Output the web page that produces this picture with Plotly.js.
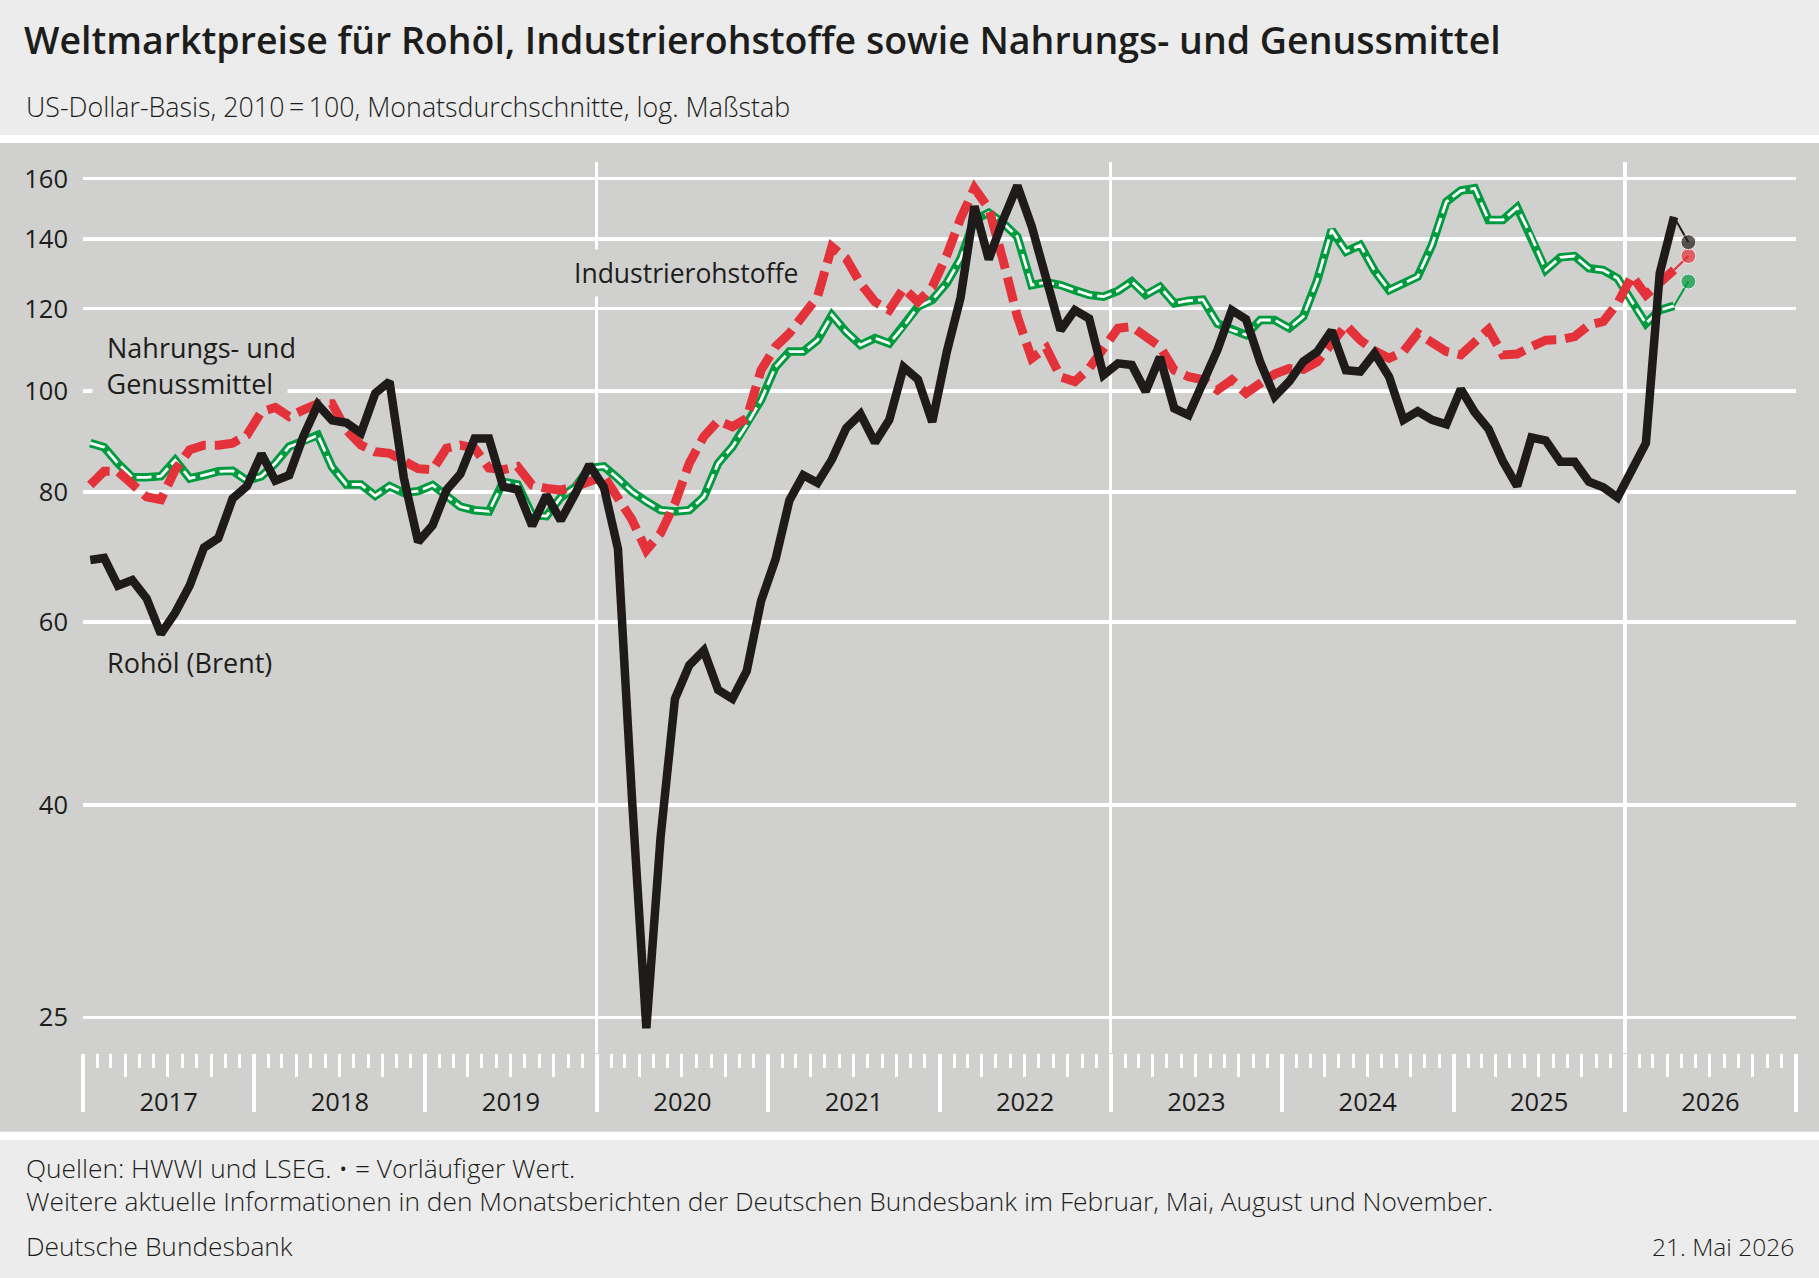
<!DOCTYPE html>
<html>
<head>
<meta charset="utf-8">
<script src="https://cdn.plot.ly/plotly-3.0.1.min.js"></script>
<style>
html,body{margin:0;padding:0;background:#ececec;}
#chart{width:1819px;height:1278px;}
</style>
</head>
<body>
<div id="chart"></div>
<script>
// ---------------- data (monthly averages, 2010 = 100) ----------------
const startYear = 2017;               // first month: January 2017
const yTickVals = [25, 40, 60, 80, 100, 120, 140, 160];
const yTickText = ['25', '40', '60', '80', '100', '120', '140', '160'];
const gridYears = ['2020-01-01', '2023-01-01', '2026-01-01'];

// Rohöl (Brent)
const brent = [
  68.8, 69.1, 65.0, 65.8, 63.2, 58.4, 61.2, 65.0, 70.7, 72.2, 78.8, 81.0,
  87.0, 82.0, 83.0, 90.5, 97.0, 93.7, 93.2, 91.1, 99.5, 102.1, 82.5, 71.6,
  74.3, 80.3, 83.2, 90.0, 90.0, 80.9, 80.4, 74.2, 79.4, 75.1, 79.6, 84.9,
  80.8, 70.5, 40.5, 24.4, 37.3, 50.6, 54.5, 56.3, 51.6, 50.6, 53.8, 62.8,
  68.9, 78.5, 83.0, 81.6, 85.9, 92.1, 95.0, 89.2, 93.8, 105.4, 102.6, 93.4,
  109.0, 123.0, 150.5, 133.8, 146.0, 157.5, 144.0, 128.0, 114.4, 119.6, 117.4, 103.6,
  106.3, 105.9, 99.9, 107.8, 96.2, 94.8, 102.0, 109.5, 119.6, 117.2, 106.5, 98.8,
  102.1, 106.7, 109.1, 114.3, 104.7, 104.4, 108.7, 103.2, 93.8, 95.6, 93.8, 92.9,
  100.4, 95.4, 91.9, 85.6, 81.0, 90.2, 89.6, 85.5, 85.5, 81.8, 80.8, 79.0,
  84.0, 89.1, 129.8, 147.0
];

// Industrierohstoffe
const industrie = [
  81.2, 83.7, 83.7, 81.2, 79.1, 78.6, 84.0, 87.8, 88.7, 88.7, 89.1, 90.7,
  95.5, 96.4, 94.5, 95.9, 97.2, 97.2, 91.7, 88.7, 87.4, 87.1, 85.5, 84.2,
  84.0, 88.1, 88.7, 88.1, 84.3, 84.0, 84.6, 81.2, 80.6, 80.3, 80.9, 81.8,
  82.8, 78.9, 75.2, 70.3, 73.0, 78.0, 85.2, 90.4, 93.6, 92.4, 94.1, 104.7,
  110.3, 113.6, 117.9, 123.2, 137.6, 134.1, 126.9, 121.8, 119.6, 125.5, 121.8, 125.9,
  135.0, 146.5, 156.6, 149.8, 133.6, 117.9, 107.5, 110.0, 103.2, 102.1, 105.1, 110.3,
  114.9, 115.3, 112.8, 110.3, 104.7, 103.2, 102.5, 100.2, 102.5, 99.5, 101.7, 103.8,
  105.1, 104.9, 106.7, 111.1, 115.7, 111.9, 109.3, 107.5, 109.1, 113.6, 111.1, 109.1,
  108.3, 111.5, 114.6, 108.3, 108.5, 110.3, 111.9, 112.0, 112.8, 115.7, 116.6, 121.4,
  129.0, 123.7, 127.4, 130.7
];

// Nahrungs- und Genussmittel
const nahrung = [
  89.1, 88.3, 85.2, 82.6, 82.6, 82.8, 85.8, 82.4, 83.0, 83.7, 83.8, 82.0,
  82.8, 85.2, 88.4, 89.4, 90.7, 84.5, 81.3, 81.3, 79.3, 81.0, 79.8, 80.1,
  81.2, 79.3, 77.4, 76.8, 76.6, 81.8, 81.3, 76.0, 75.8, 79.0, 80.8, 84.3,
  84.6, 82.4, 80.0, 78.3, 76.8, 76.6, 76.8, 79.1, 85.2, 88.4, 92.7, 98.0,
  105.5, 109.1, 109.1, 111.9, 118.3, 114.0, 110.7, 112.4, 111.1, 115.3, 120.5, 122.3,
  127.0, 134.0, 146.0, 148.4, 145.0, 140.7, 126.4, 127.2, 126.4, 125.0, 123.7, 123.2,
  124.8, 127.4, 123.7, 125.9, 121.4, 122.1, 122.4, 116.1, 114.4, 113.2, 117.0, 117.0,
  114.9, 117.9, 127.8, 142.8, 136.1, 138.1, 130.5, 125.0, 126.9, 128.8, 138.1, 152.0,
  155.8, 156.6, 146.0, 146.0, 150.1, 140.7, 130.7, 134.4, 134.8, 131.2, 130.7, 128.3,
  121.8, 116.1, 119.6, 120.7
];

// provisional values (May 2026)
const provMonth = '2026-05';
const brentProv = 139.0;
const industrieProv = 134.8;
const nahrungProv = 127.4;

// ---------------- helpers ----------------
function monthList(n) {
  const out = [];
  for (let k = 0; k < n; k++) {
    const y = startYear + Math.floor(k / 12), m = (k % 12) + 1;
    out.push(y + '-' + String(m).padStart(2, '0'));
  }
  return out;
}
const months = monthList(brent.length);
const lastMonth = months[months.length - 1];

const W = 1819, H = 1278;
const ML = 83, MR = 23, MT = 162, MB = 225;
const PW = W - ML - MR, PH = H - MT - MB;
const xp = px => (px - ML) / PW;
const yp = py => (H - MB - py) / PH;

const RED = '#e4323a', GREEN = '#009b3e', BLACK = '#1f1b1a';
const PANEL = '#d0d0ce', HEAD = '#ececec', TXT = '#1d1d1b';
const FONT = 'Open Sans, Noto Sans, sans-serif';

const per = {xperiod: 'M1', xperiodalignment: 'middle'};
const base = Object.assign({type: 'scatter', mode: 'lines', hoverinfo: 'skip', showlegend: false}, per);

const traces = [
  Object.assign({}, base, {name: 'Nahrungs- und Genussmittel', x: months, y: nahrung,
    line: {color: GREEN, width: 8.5}}),
  Object.assign({}, base, {name: 'Nahrungs- und Genussmittel (Innenlinie)', x: months, y: nahrung,
    line: {color: '#ffffff', width: 2.8, dash: '15px,5px'}}),
  Object.assign({}, base, {name: 'Industrierohstoffe', x: months, y: industrie,
    line: {color: RED, width: 9, dash: '25px,9px'}}),
  Object.assign({}, base, {name: 'Rohöl (Brent)', x: months, y: brent,
    line: {color: BLACK, width: 8.5}}),
  Object.assign({}, base, {mode: 'lines+markers', x: [lastMonth, provMonth], y: [nahrung[nahrung.length - 1], nahrungProv],
    line: {color: GREEN, width: 2}, marker: {color: GREEN, size: [0, 15]}}),
  Object.assign({}, base, {mode: 'lines+markers', x: [lastMonth, provMonth], y: [industrie[industrie.length - 1], industrieProv],
    line: {color: RED, width: 2}, marker: {color: RED, size: [0, 15]}}),
  Object.assign({}, base, {mode: 'lines+markers', x: [lastMonth, provMonth], y: [brent[brent.length - 1], brentProv],
    line: {color: BLACK, width: 2}, marker: {color: BLACK, size: [0, 15]}}),
  // invisible carriers for the overlay axes (tick marks / grid)
  Object.assign({}, base, {x: months, y: brent, xaxis: 'x2', line: {color: 'rgba(0,0,0,0)', width: 0}}),
  Object.assign({}, base, {x: months, y: brent, xaxis: 'x3', line: {color: 'rgba(0,0,0,0)', width: 0}}),
  Object.assign({}, base, {x: months, y: brent, xaxis: 'x4', line: {color: 'rgba(0,0,0,0)', width: 0}})
];

const xRange = ['2017-01-01', '2027-01-01'];
const overlayBase = {type: 'date', range: xRange, autorange: false, overlaying: 'x', anchor: 'y',
  showgrid: false, zeroline: false, showline: false, showticklabels: false, fixedrange: true};

const layout = {
  width: W, height: H,
  margin: {l: ML, r: MR, t: MT, b: MB, pad: 0},
  paper_bgcolor: HEAD,
  plot_bgcolor: PANEL,
  showlegend: false,
  title: {
    text: 'Weltmarktpreise für Rohöl, Industrierohstoffe sowie Nahrungs- und Genussmittel',
    x: 24 / W, xref: 'container', xanchor: 'left',
    y: 1 - 40.5 / H, yref: 'container', yanchor: 'middle',
    font: {family: FONT, size: 37.5, weight: 600, color: TXT}
  },
  xaxis: {
    type: 'date', range: xRange, autorange: false,
    tick0: '2017-01-01', dtick: 'M12', tickformat: '%Y', ticklabelmode: 'period',
    ticks: '', showgrid: false, zeroline: false, showline: false,
    ticklabelstandoff: 31,
    tickfont: {family: FONT, size: 25.5, color: TXT},
    minor: {ticks: 'outside', dtick: 'M1', tick0: '2017-01-01', ticklen: 14, tickwidth: 3, tickcolor: '#ffffff', showgrid: false},
    fixedrange: true
  },
  xaxis2: Object.assign({}, overlayBase, {tick0: '2017-01-01', dtick: 'M3', ticks: 'outside', ticklen: 23, tickwidth: 3, tickcolor: '#ffffff'}),
  xaxis3: Object.assign({}, overlayBase, {tick0: '2017-01-01', dtick: 'M12', ticks: 'outside', ticklen: 58, tickwidth: 4, tickcolor: '#ffffff'}),
  xaxis4: Object.assign({}, overlayBase, {tickmode: 'array', tickvals: gridYears, ticks: '', showgrid: true, gridcolor: '#ffffff', gridwidth: 3.5}),
  yaxis: {
    type: 'log', range: [1.36362, 2.22008], autorange: false,
    tickmode: 'array', tickvals: yTickVals, ticktext: yTickText,
    ticks: '', showgrid: true, gridcolor: '#ffffff', gridwidth: 3.5,
    zeroline: false, showline: false,
    ticklabelstandoff: 14,
    tickfont: {family: FONT, size: 25.5, color: TXT},
    fixedrange: true
  },
  shapes: [
    {type: 'rect', xref: 'paper', yref: 'paper', x0: xp(0), x1: xp(W), y0: yp(1140), y1: yp(135),
     fillcolor: '#ffffff', line: {width: 0}, layer: 'below'},
    {type: 'rect', xref: 'paper', yref: 'paper', x0: xp(0), x1: xp(W), y0: yp(1131.7), y1: yp(143),
     fillcolor: PANEL, line: {width: 0}, layer: 'below'}
  ],
  annotations: [
    {text: 'US-Dollar-Basis, 2010\u2009=\u2009100, Monatsdurchschnitte, log. Maßstab', xref: 'paper', yref: 'paper',
     x: xp(24), y: yp(106), xanchor: 'left', yanchor: 'middle', showarrow: false,
     font: {family: FONT, size: 26.8, weight: 300, color: TXT}},
    {text: 'Industrierohstoffe', xref: 'paper', yref: 'paper', x: xp(568), y: yp(273),
     xanchor: 'left', yanchor: 'middle', showarrow: false, bgcolor: PANEL, borderpad: 5,
     font: {family: FONT, size: 26.5, weight: 500, color: TXT}},
    {text: 'Nahrungs- und', xref: 'paper', yref: 'paper', x: xp(105), y: yp(347),
     xanchor: 'left', yanchor: 'middle', showarrow: false,
     font: {family: FONT, size: 27, weight: 500, color: TXT}},
    {text: '\u2002Genussmittel\u2002', xref: 'paper', yref: 'paper', x: xp(92), y: yp(383),
     xanchor: 'left', yanchor: 'middle', showarrow: false, bgcolor: PANEL, borderpad: 0,
     font: {family: FONT, size: 27, weight: 500, color: TXT}},
    {text: 'Rohöl (Brent)', xref: 'paper', yref: 'paper', x: xp(105), y: yp(662),
     xanchor: 'left', yanchor: 'middle', showarrow: false,
     font: {family: FONT, size: 27, weight: 500, color: TXT}},
    {text: 'Quellen: HWWI und LSEG. \u2022 = Vorläufiger Wert.', xref: 'paper', yref: 'paper',
     x: xp(24), y: yp(1168), xanchor: 'left', yanchor: 'middle', showarrow: false,
     font: {family: FONT, size: 26.3, weight: 300, color: TXT}},
    {text: 'Weitere aktuelle Informationen in den Monatsberichten der Deutschen Bundesbank im Februar, Mai, August und November.',
     xref: 'paper', yref: 'paper', x: xp(24), y: yp(1201), xanchor: 'left', yanchor: 'middle', showarrow: false,
     font: {family: FONT, size: 26.3, weight: 300, color: TXT}},
    {text: 'Deutsche Bundesbank', xref: 'paper', yref: 'paper', x: xp(24), y: yp(1246),
     xanchor: 'left', yanchor: 'middle', showarrow: false,
     font: {family: FONT, size: 26.3, weight: 300, color: TXT}},
    {text: '21. Mai 2026', xref: 'paper', yref: 'paper', x: xp(1796), y: yp(1246),
     xanchor: 'right', yanchor: 'middle', showarrow: false,
     font: {family: FONT, size: 24.5, weight: 300, color: TXT}}
  ]
};

Plotly.newPlot('chart', traces, layout, {staticPlot: true, displayModeBar: false});
</script>
</body>
</html>
